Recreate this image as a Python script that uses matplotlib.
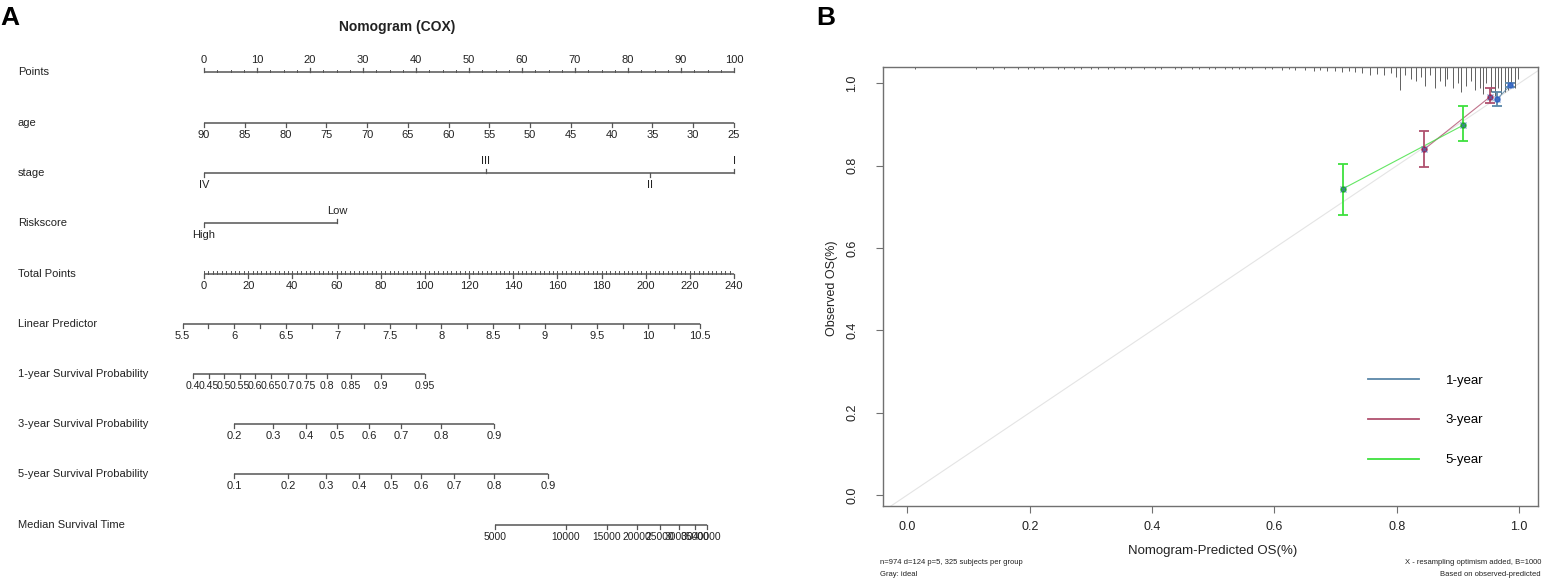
import matplotlib.pyplot as plt
import numpy as np

plt.rcParams['font.family'] = ['Liberation Sans', 'DejaVu Sans']

# ---------------- panel A: nomogram values ----------------
row_names = ['Points', 'age', 'stage', 'Riskscore', 'Total Points', 'Linear Predictor',
             '1-year Survival Probability', '3-year Survival Probability',
             '5-year Survival Probability', 'Median Survival Time']

points_vals = [0, 10, 20, 30, 40, 50, 60, 70, 80, 90, 100]
age_vals = [90, 85, 80, 75, 70, 65, 60, 55, 50, 45, 40, 35, 30, 25]
stage_labels = ['IV', 'III', 'II', 'I']
stage_pts = [0, 53.2, 84.2, 100]
risk_labels = ['High', 'Low']
risk_pts = [0, 25.1]
total_vals = [0, 20, 40, 60, 80, 100, 120, 140, 160, 180, 200, 220, 240]
lp_vals = [5.5, 6, 6.5, 7, 7.5, 8, 8.5, 9, 9.5, 10, 10.5]
lp_end_total = [-9.7, 224.7]          # total points at lp 5.5 and 10.5
surv1_vals = ['0.4', '0.45', '0.5', '0.55', '0.6', '0.65', '0.7', '0.75', '0.8', '0.85', '0.9', '0.95']
surv1_total = [-5.0, 2.3, 9.1, 16.3, 23.1, 30.3, 38.0, 46.2, 55.7, 66.6, 80.2, 100.1]
surv3_vals = ['0.2', '0.3', '0.4', '0.5', '0.6', '0.7', '0.8', '0.9']
surv3_total = [13.8, 31.2, 46.2, 60.2, 74.7, 89.2, 107.3, 131.3]
surv5_vals = ['0.1', '0.2', '0.3', '0.4', '0.5', '0.6', '0.7', '0.8', '0.9']
surv5_total = [13.6, 38.0, 55.2, 70.2, 84.7, 98.4, 113.2, 131.3, 155.7]
med_vals = ['5000', '10000', '15000', '20000', '25000', '30000', '35000', '40000']
med_total = [131.8, 163.9, 182.4, 196.0, 206.4, 215.0, 222.3, 227.7]

# ---------------- panel B: calibration values ----------------
cal_labels = ['1-year', '3-year', '5-year']
pred_1y = [0.964, 0.986]
obs_1y = [0.962, 0.996]
lo_1y = [0.946, 0.992]
hi_1y = [0.979, 1.000]
pred_3y = [0.845, 0.953]
obs_3y = [0.840, 0.968]
lo_3y = [0.798, 0.952]
hi_3y = [0.885, 0.988]
pred_5y = [0.712, 0.908]
obs_5y = [0.744, 0.898]
lo_5y = [0.680, 0.860]
hi_5y = [0.804, 0.944]

rug_x = [0.013, 0.112, 0.140, 0.158, 0.181, 0.197, 0.207, 0.222, 0.246, 0.256, 0.273,
         0.284, 0.300, 0.312, 0.328, 0.338, 0.355, 0.366, 0.387, 0.404, 0.415, 0.437,
         0.448, 0.465, 0.476, 0.493, 0.503, 0.519, 0.531, 0.542, 0.552, 0.563,
         0.585, 0.596, 0.612, 0.624, 0.634, 0.650, 0.665, 0.675, 0.686, 0.699, 0.711,
         0.722, 0.732, 0.744, 0.757, 0.768, 0.780, 0.790, 0.798, 0.806, 0.814, 0.823,
         0.831, 0.839, 0.846, 0.854, 0.862, 0.870, 0.879, 0.883, 0.892, 0.900, 0.905,
         0.913, 0.921, 0.928, 0.936, 0.941, 0.946, 0.954, 0.961, 0.966, 0.970, 0.977,
         0.982, 0.987, 0.993, 0.998]
rug_len = [0.004] * 32 + \
          [0.006, 0.006, 0.008, 0.006, 0.008, 0.008, 0.010, 0.008, 0.010, 0.010, 0.012,
           0.010, 0.012, 0.014, 0.020, 0.016, 0.020, 0.014, 0.025, 0.055, 0.020, 0.030,
           0.035, 0.025, 0.045, 0.020, 0.050, 0.035, 0.045, 0.030, 0.050, 0.040, 0.060,
           0.045, 0.035, 0.055, 0.050, 0.065, 0.040, 0.060, 0.070, 0.050, 0.065, 0.060,
           0.055, 0.045, 0.050, 0.030]

W, H = 1549, 578
fig = plt.figure(figsize=(W / 100, H / 100), dpi=100)

# ---------------- panel A ----------------
def px2pt(px):
    # points axis: 0 at x=204 px, 100 at x=734 px
    return (px - 204) / 5.3

lc = '#555555'
tc = '#222222'
axA = fig.add_axes([0, 0, 780 / W, 1])
axA.set_xlim(px2pt(0), px2pt(780))
axA.set_ylim(H, 0)
axA.axis('off')

row_y = [72, 123, 173, 223, 274, 324, 374, 424, 474, 525]
for name, y in zip(row_names, row_y):
    axA.text(px2pt(18), y, name, fontsize=8, color=tc, ha='left', va='center')

def tot2pt(t):
    return np.asarray(t, dtype=float) * 100 / 240


def draw_scale(y, pos, labels, above, tlen=4, lab_fs=8):
    pos = np.asarray(pos, dtype=float)
    axA.plot([pos.min(), pos.max()], [y, y], color=lc, lw=1.1, solid_capstyle='butt')
    for p, lab, up in zip(pos, labels, above):
        if up:
            axA.plot([p, p], [y, y - tlen], color=lc, lw=0.9)
            axA.text(p, y - 12, lab, fontsize=lab_fs, color=tc, ha='center', va='center')
        else:
            axA.plot([p, p], [y, y + tlen], color=lc, lw=0.9)
            axA.text(p, y + 12, lab, fontsize=lab_fs, color=tc, ha='center', va='center')


# Points
draw_scale(row_y[0], points_vals, [str(v) for v in points_vals], [True] * len(points_vals))
for m in np.arange(0, 100, 2.5):
    axA.plot([m, m], [row_y[0], row_y[0] - 2.5], color=lc, lw=0.7)

# age
age_pts = [(90 - a) / (90 - 25) * 100 for a in age_vals]
draw_scale(row_y[1], age_pts, [str(a) for a in age_vals], [False] * len(age_vals))

# stage
draw_scale(row_y[2], stage_pts, stage_labels, [False, True, False, True])

# Riskscore
draw_scale(row_y[3], risk_pts, risk_labels, [False, True])

# Total points
draw_scale(row_y[4], tot2pt(total_vals), [str(v) for v in total_vals], [False] * len(total_vals))
for m in tot2pt(np.arange(0, 240, 2)):
    axA.plot([m, m], [row_y[4], row_y[4] - 3], color=lc, lw=0.7)

# Linear predictor
lp_tot = [lp_end_total[0] + (v - 5.5) / 5.0 * (lp_end_total[1] - lp_end_total[0]) for v in lp_vals]
draw_scale(row_y[5], tot2pt(lp_tot), [f'{v:g}' for v in lp_vals], [False] * len(lp_vals))
for v in np.arange(5.75, 10.5, 0.5):
    m = tot2pt(lp_end_total[0] + (v - 5.5) / 5.0 * (lp_end_total[1] - lp_end_total[0]))
    axA.plot([m, m], [row_y[5], row_y[5] + 4], color=lc, lw=0.9)

draw_scale(row_y[6], tot2pt(surv1_total), surv1_vals, [False] * len(surv1_vals), lab_fs=7.6)
draw_scale(row_y[7], tot2pt(surv3_total), surv3_vals, [False] * len(surv3_vals))
draw_scale(row_y[8], tot2pt(surv5_total), surv5_vals, [False] * len(surv5_vals))
draw_scale(row_y[9], tot2pt(med_total), med_vals, [False] * len(med_vals), lab_fs=7.4)

axA.text(px2pt(397), 27, 'Nomogram (COX)', fontsize=10, weight='bold', color=tc,
         ha='center', va='center')

fig.text(0.0, 1 - 6 / H, 'A', fontsize=19, weight='bold', ha='left', va='top')
fig.text(816 / W, 1 - 6 / H, 'B', fontsize=19, weight='bold', ha='left', va='top')

# ---------------- panel B ----------------
axB = fig.add_axes([883 / W, 1 - 506 / H, (1538 - 883) / W, (506 - 67) / H])
axB.set_xlim(-0.04, 1.031)
axB.set_ylim(-0.027, 1.04)
for s in axB.spines.values():
    s.set_color('#707070')
    s.set_linewidth(1.0)

axB.plot([-0.04, 1.04], [-0.04, 1.04], color='#e4e4e4', lw=0.8, zorder=1)
axB.vlines(rug_x, 1.04 - np.asarray(rug_len), 1.04, color='#606060', lw=0.7, zorder=2)

series = [
    (pred_1y, obs_1y, lo_1y, hi_1y, '#5a87a8', '#2d5fc4'),
    (pred_3y, obs_3y, lo_3y, hi_3y, '#b0506e', '#a0204f'),
    (pred_5y, obs_5y, lo_5y, hi_5y, '#3ee03e', '#18b018'),
]
for pr, ob, lo, hi, col, dark in series:
    axB.plot(pr, ob, color=col, lw=0.8, alpha=0.8, zorder=3)
    axB.errorbar(pr, ob, yerr=[np.subtract(ob, lo), np.subtract(hi, ob)], fmt='none',
                 ecolor=col, elinewidth=1.3, capsize=3.5, capthick=1.3, zorder=4)
    axB.plot(pr, ob, ls='none', marker='o', ms=3.5, color=dark, zorder=5)
    axB.plot(pr, ob, ls='none', marker='x', ms=4, mew=0.9, color='#4a78c0', alpha=0.7, zorder=6)

axB.set_xticks([0.0, 0.2, 0.4, 0.6, 0.8, 1.0])
axB.set_xticklabels(['0.0', '0.2', '0.4', '0.6', '0.8', '1.0'])
axB.set_yticks([0.0, 0.2, 0.4, 0.6, 0.8, 1.0])
axB.set_yticklabels(['0.0', '0.2', '0.4', '0.6', '0.8', '1.0'], rotation=90, va='center')
axB.tick_params(axis='both', direction='out', length=5, width=0.8, color='#707070',
                labelsize=9, labelcolor='#222222')
axB.tick_params(axis='x', pad=6)
axB.tick_params(axis='y', pad=13)

leg_handles = [plt.Line2D([], [], color=c, lw=1.3) for c in ['#5a87a8', '#b0506e', '#3ee03e']]
axB.legend(leg_handles, cal_labels, loc='upper left', bbox_to_anchor=(0.74, 0.30),
           frameon=False, fontsize=9.5, handlelength=3.9, handletextpad=2.0,
           labelspacing=2.1, borderpad=0, borderaxespad=0)

fig.text(832 / W, 1 - 288 / H, 'Observed OS(%)', rotation=90, fontsize=9,
         ha='center', va='center', color='#222222')
fig.text(1213 / W, 1 - 551 / H, 'Nomogram-Predicted OS(%)', fontsize=9.5,
         ha='center', va='center', color='#222222')
fig.text(880 / W, 1 - 562 / H, 'n=974 d=124 p=5, 325 subjects per group', fontsize=5.5,
         ha='left', va='center', color='#222222')
fig.text(880 / W, 1 - 574 / H, 'Gray: ideal', fontsize=5.5, ha='left', va='center', color='#222222')
fig.text(1541 / W, 1 - 562 / H, 'X - resampling optimism added, B=1000', fontsize=5.5,
         ha='right', va='center', color='#222222')
fig.text(1541 / W, 1 - 574 / H, 'Based on observed-predicted', fontsize=5.5,
         ha='right', va='center', color='#222222')

fig.savefig('out.png', dpi=100)
